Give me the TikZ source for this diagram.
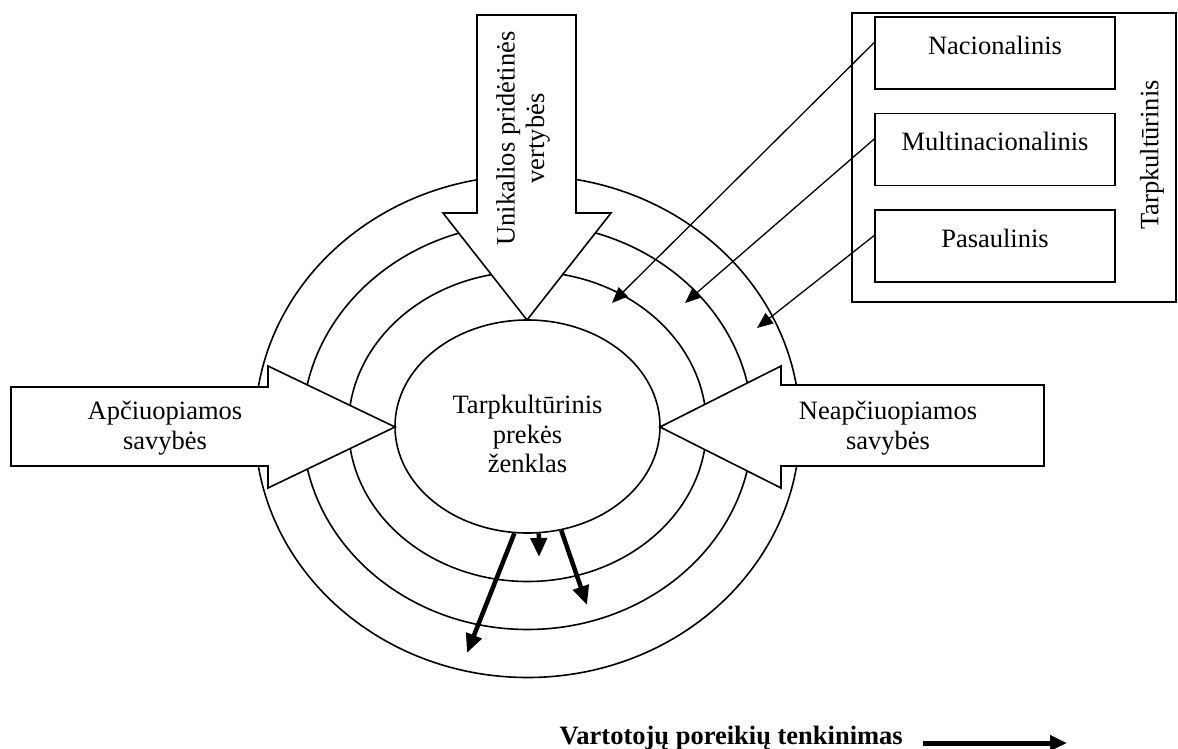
\documentclass[tikz,border=0pt]{standalone}
\usepackage{fontspec}
\setmainfont{Liberation Serif}
\usetikzlibrary{arrows.meta,shapes.geometric}
\begin{document}
\begin{tikzpicture}[x=1pt,y=-1pt,
  every node/.style={font=\fontsize{26.5}{29.5}\selectfont},
  ring/.style={draw,line width=1.6pt},
  blockarrow/.style={draw,fill=white,line width=1.6pt,line join=miter},
  lbl/.style={align=center,inner sep=0pt},
  subbox/.style={draw,line width=1.4pt,minimum width=240pt,minimum height=72pt,inner sep=0pt},
  link/.style={line width=1.3pt,-{Triangle[length=16pt,width=13pt]}},
  flow/.style={line width=4.5pt,-{Triangle[length=19pt,width=16pt]}},
  goal/.style={line width=5pt,-{Triangle[length=17pt,width=15pt]}}]
\useasboundingbox (0,0) rectangle (1178,749);

% concentric rings around the brand
\draw[ring] (527.5,426.5) ellipse [x radius=272.5, y radius=251];
\draw[ring] (527.5,426.5) ellipse [x radius=225, y radius=203];
\draw[ring] (527.5,426.5) ellipse [x radius=179, y radius=155];
\node[ring,ellipse,minimum width=265pt,minimum height=213pt,inner sep=0pt] (core) at (527.5,426.5) {};
\node[lbl] (coretext) at (527.5,434) {Tarpkultūrinis\\prekės\\ženklas};

% block arrows pointing at the brand
\draw[blockarrow] (477,15) -- (576,15) -- (576,213) -- (611,213) -- (527,320)
  -- (443,213) -- (477,213) -- cycle;
\node[lbl,rotate=90] (unique) at (523,138.5) {Unikalios pridėtinės\\vertybės};

\draw[blockarrow] (11,387) -- (268,387) -- (268,366) -- (395,427) -- (268,488)
  -- (268,466) -- (11,466) -- cycle;
\node[lbl] (tangible) at (165,428) {Apčiuopiamos\\savybės};

\draw[blockarrow] (1044,385) -- (781,385) -- (781,366) -- (660,427) -- (781,488)
  -- (781,466) -- (1044,466) -- cycle;
\node[lbl] (intangible) at (888,428) {Neapčiuopiamos\\savybės};

% levels panel
\draw[line width=1.4pt] (852,13) rectangle (1176,302);
\node[lbl,rotate=90] (cross) at (1152,155) {Tarpkultūrinis};

\node[subbox] (nat) at (995,53) {};
\node[lbl] (nattext) at ([yshift=8pt]nat.center) {Nacionalinis};
\node[subbox] (multi) at (995,149.5) {};
\node[lbl] (multitext) at ([yshift=8pt]multi.center) {Multinacionalinis};
\node[subbox] (world) at (995,246) {};
\node[lbl] (worldtext) at ([yshift=8pt]world.center) {Pasaulinis};

\coordinate (natTip) at (612,303);
\coordinate (multiTip) at (685,303);
\coordinate (worldTip) at (757,328);
\draw[link] (nat.175) -- (natTip);
\draw[link] (multi.175) -- (multiTip);
\draw[link] (world.175) -- (worldTip);

% outward flows from the brand
\coordinate (flowA) at (467,653);
\coordinate (flowB) at (539,557);
\coordinate (flowC) at (587,605);
\draw[flow] (core.263) -- (flowA);
\draw[flow] (core.276) -- (flowB);
\draw[flow] (core.288) -- (flowC);

% consumer needs direction
\node[anchor=base east,inner sep=0pt,font=\fontsize{26.5}{29.5}\selectfont\bfseries] (need) at (903,744) {Vartotojų poreikių tenkinimas};
\coordinate (needTip) at (1067,743);
\draw[goal,shorten <=20pt] ([yshift=1pt]need.base east) -- (needTip);
\end{tikzpicture}
\end{document}
